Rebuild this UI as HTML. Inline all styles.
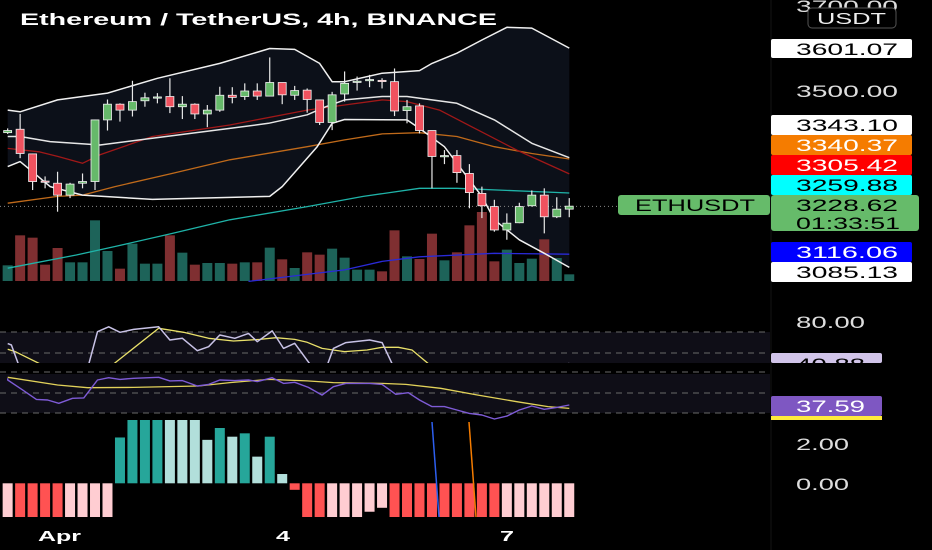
<!DOCTYPE html>
<html><head><meta charset="utf-8">
<style>
html,body{margin:0;padding:0;background:#000;width:932px;height:550px;overflow:hidden}
svg{display:block;font-family:"Liberation Sans",sans-serif}
</style></head>
<body>
<svg id="chart" width="932" height="550" viewBox="0 0 932 550" xmlns="http://www.w3.org/2000/svg">
<rect x="0" y="0" width="932" height="550" fill="#000"/>
<defs>
<clipPath id="cMain"><rect x="0" y="0" width="770" height="284"/></clipPath>
<clipPath id="cRsi1"><rect x="0" y="318" width="770" height="45"/></clipPath>
<clipPath id="cRsi2"><rect x="0" y="365" width="770" height="56"/></clipPath>
<clipPath id="cHist"><rect x="0" y="420" width="770" height="97"/></clipPath>
</defs>
<g id="main" clip-path="url(#cMain)"></g>
<g id="rsi1"></g>
<g id="rsi2"></g>
<g id="hist"></g>
<g id="axis"></g>
<text x="20" y="25" fill="#fff" font-size="17" font-weight="bold" textLength="477" lengthAdjust="spacingAndGlyphs">Ethereum / TetherUS, 4h, BINANCE</text>
<text x="38" y="541" fill="#fff" font-size="15" font-weight="bold" textLength="43" lengthAdjust="spacingAndGlyphs">Apr</text>
<text x="276" y="541" fill="#fff" font-size="15" font-weight="bold" textLength="14" lengthAdjust="spacingAndGlyphs">4</text>
<text x="500" y="541" fill="#fff" font-size="15" font-weight="bold" textLength="14" lengthAdjust="spacingAndGlyphs">7</text>
</svg>
<script>
const opens=[3402,3410,3352,3288,3283,3255,3283,3287,3432,3469,3455,3477,3485,3487,3463,3469,3446,3455,3490,3487,3500,3488,3520,3490,3502,3479,3426,3493,3521,3525,3525,3522,3454,3465,3407,3346,3348,3306,3259,3228,3173,3190,3230,3255,3204,3222];
const highs=[3412,3446,3353,3299,3310,3284,3306,3433,3480,3471,3524,3496,3495,3530,3488,3471,3467,3510,3509,3518,3518,3579,3520,3512,3506,3480,3498,3546,3534,3538,3530,3553,3479,3471,3407,3361,3361,3328,3275,3244,3212,3237,3266,3271,3250,3248];
const lows=[3399,3342,3267,3271,3216,3248,3271,3267,3407,3428,3440,3463,3471,3448,3434,3434,3415,3451,3471,3479,3479,3488,3469,3479,3449,3420,3408,3475,3501,3509,3506,3441,3424,3400,3271,3328,3284,3224,3201,3169,3150,3189,3228,3165,3201,3203];
const closes=[3407,3353,3287,3286,3255,3281,3287,3432,3469,3455,3475,3484,3486,3463,3469,3446,3455,3490,3485,3500,3488,3520,3491,3501,3480,3426,3491,3518,3523,3527,3523,3453,3463,3407,3346,3348,3308,3261,3230,3173,3189,3228,3255,3204,3222,3229];
const volumes=[47,137,130,49,99,56,56,182,90,37,112,52,52,137,85,49,54,54,52,56,56,100,65,39,86,79,97,70,34,34,29,152,74,66,142,62,86,167,207,59,94,54,67,125,69,20];
const bbUpperIdx=[0,1,4,8,12,17,21,23,25,26,27,30,33,34,36,38,40,42,45];
const bbUpper=[3455,3451,3479,3495,3530,3565,3600,3598,3565,3522,3522,3542,3548,3565,3589,3620,3650,3648,3601];
const bbLowerIdx=[0,1,2,3.4,6,11.6,21,22,24.8,26,27,32,33,35,38,39,41,43,45];
const bbLower=[3322,3334,3310,3275,3255,3245,3252,3275,3369,3424,3433,3432,3412,3369,3252,3197,3150,3118,3085];
const bbMidIdx=[0,1,3.4,7.4,11.6,17.8,20.9,24,25.5,27,30,32,36,39,42,45];
const bbMid=[3393,3393,3381,3373,3389,3412,3424,3444,3463,3479,3487,3487,3471,3432,3377,3343];
const maRedIdx=[0,2.5,4,6,7.4,11.6,17.8,24,27,30,32,34.6,37.7,40.8,45];
const maRed=[3365,3357,3346,3330,3350,3393,3420,3455,3467,3479,3475,3455,3408,3361,3305];
const maOrangeIdx=[0,4,6,8.6,13.2,17.8,24,27,30,33,36,39,42,45];
const maOrange=[3236,3252,3255,3275,3306,3338,3369,3385,3399,3402,3393,3369,3353,3340];
const maTealIdx=[0,5.5,8.6,13.2,17.8,24,28.5,33,36,45];
const maTeal=[3083,3114,3134,3165,3197,3228,3252,3271,3271,3260];
const maBlueIdx=[19.3,27,30,33,39,45];
const maBlue=[3052,3079,3099,3110,3118,3116];
const rsiIdx=[0,0.3,1,6.4,7.2,8.1,9,10.1,12.1,13,14,15.2,16.1,17,18.2,19.3,20,21.2,22.1,23,24.5,25.5,26.1,27.1,29,30,31,33,36,40,45];
const rsiVals=[59,57.6,35,35,70.3,75,69.7,72.5,75,62.4,64,52.2,56,67.1,64,68.7,60.8,71,54.4,59.2,35,35,54.4,59.9,62.4,59.9,35,38,25,30,40];
const rsiMaIdx=[0,0.6,3.4,8,12.1,14.1,16.1,18.1,20.2,21.5,23,24,25.2,27,28.8,30,31.3,32.4,34.2,40,45];
const rsiMaVals=[53.5,51.3,35,35,73.5,69.7,64,61.4,63,64.6,63,60.2,54.4,51.3,52.9,55.4,55.4,52.9,35,30,30];
const stochIdx=[0,0,1.2,2.3,3.2,4.1,5.2,6.1,7.2,8.1,9,10.1,12.1,13,14,15.2,16.1,17,18.2,19.3,20,21.2,22.1,23,24.1,25.2,26.1,27.1,29,30,31.1,32.1,33,34,35,36,37,38,39,40,41,42,43,44,45];
const stochVals=[64.3,62.7,53,43.8,43.2,40,44.8,45.2,62.7,64.9,63.3,64.3,65.3,61.8,62.1,56.8,58.4,62.7,62.1,62.7,61.1,64.9,59.4,60.4,55.5,48,56.1,59.4,59.4,58.4,48.7,50.3,43.2,36.7,36.7,33.4,30.1,28.5,24.6,27.5,33.4,37.3,34.1,36,38.3];
const stochMaIdx=[0,4,6.4,10.1,15.3,17.8,20.9,24,26.1,30,31.9,34.7,37.7,40.8,43.3,45];
const stochMaVals=[65.3,57.8,55.2,55.5,56.8,60.1,63.3,61.8,60.1,59.4,58.4,54.6,48,41.5,36.7,35];
const histVals=[-2.2,-2.2,-2.2,-2.2,-2.2,-2.2,-2.2,-2.2,-2.2,2.32,3.4,3.4,3.4,3.4,3.4,3.4,2.2,2.8,2.36,2.53,1.35,2.36,0.47,-0.33,-2.2,-2.2,-2.2,-2.2,-2.2,-1.44,-1.24,-2.2,-2.2,-2.2,-2.2,-2.2,-2.2,-2.2,-2.2,-2.2,-2.2,-2.2,-2.2,-2.2,-2.2,-2.2];
const histShade=["l","d","d","d","d","l","l","l","l","d","d","d","d","l","l","l","l","d","l","d","l","d","l","d","d","d","l","l","l","l","l","d","d","d","d","d","d","d","d","d","l","l","l","l","l","l"];
const axisLabels=["3700.00","3500.00","80.00","2.00","0.00"];
const axisLabelVals=[3700,3500];

const NS="http://www.w3.org/2000/svg";
const xS=i=>7.65+12.48*i;
const yP=p=>91-(p-3500)*0.425;
const yR1=v=>332-(v-70)*1.05;
const yR2=v=>393-(v-50)*1.025;
const yH=v=>483.3-v*19.75;
function mk(tag,attrs,parent){const e=document.createElementNS(NS,tag);for(const k in attrs)e.setAttribute(k,attrs[k]);parent.appendChild(e);return e;}
function pts(idx,vals,yf){return idx.map((t,k)=>xS(t).toFixed(1)+","+yf(vals[k]).toFixed(1)).join(" ");}

const main=document.getElementById('main');
const bandPts=pts(bbUpperIdx,bbUpper,yP)+" "+bbLowerIdx.slice().reverse().map((t,k)=>xS(t).toFixed(1)+","+yP(bbLower[bbLower.length-1-k]).toFixed(1)).join(" ");
let bf=mk('polygon',{points:bandPts,fill:'#0c1019'},main);


volumes.forEach((v,i)=>{const up=closes[i]>=opens[i];
 let r=mk('rect',{x:xS(i)-5,y:281-v/3,width:10,height:v/3,fill:up?'#1d6359':'#7f2f31'},main);
 
 });
let pl=mk('line',{x1:0,x2:618,y1:yP(3228.62),y2:yP(3228.62),stroke:'#888','stroke-dasharray':'1 3','stroke-width':1},main);


function line(idx,vals,yf,color,name,parent,w){let e=mk('polyline',{points:pts(idx,vals,yf),fill:'none',stroke:color,'stroke-width':w||1.3,'stroke-linejoin':'round'},parent);
 
 }
line(maTealIdx,maTeal,yP,'#1fb3a8','ma-teal',main);
line(maBlueIdx,maBlue,yP,'#2a2ad8','ma-blue',main);
line(maOrangeIdx,maOrange,yP,'#c06a1a','ma-orange',main);
line(maRedIdx,maRed,yP,'#a01818','ma-red',main);
line(bbMidIdx,bbMid,yP,'#e6e6e6','bollinger-middle',main,1.5);
line(bbUpperIdx,bbUpper,yP,'#f0f0f0','bollinger-upper',main,1.5);
line(bbLowerIdx,bbLower,yP,'#f0f0f0','bollinger-lower',main,1.5);
opens.forEach((o,i)=>{const c=closes[i],up=c>=o,x=xS(i);
 let w=mk('line',{x1:x,x2:x,y1:yP(highs[i]),y2:yP(lows[i]),stroke:'#e8e8e8','stroke-width':1.2},main);
 
 
 const t=yP(Math.max(o,c)),b=yP(Math.min(o,c));
 let r=mk('rect',{x:x-4,y:t,width:8,height:Math.max(1.2,b-t),fill:up?'#66b96a':'#f0525f',stroke:'#f2f2f2','stroke-width':0.8},main);
 
 });

const r1=document.getElementById('rsi1');
mk('rect',{x:0,y:332,width:770,height:31,fill:'#0f0e17'},r1);
[332,353].forEach(y=>mk('line',{x1:0,x2:770,y1:y,y2:y,stroke:'#6a6a6a','stroke-dasharray':'6 5'},r1));
const g1=mk('g',{'clip-path':'url(#cRsi1)'},r1);
line(rsiMaIdx,rsiMaVals,yR1,'#e9e06a','rsi-ma-line',g1);
line(rsiIdx,rsiVals,yR1,'#c8c2e6','rsi-line',g1,1.5);
const r2=document.getElementById('rsi2');
mk('rect',{x:0,y:374,width:770,height:39,fill:'#0f0e17'},r2);
[372,393,413].forEach(y=>mk('line',{x1:0,x2:770,y1:y,y2:y,stroke:'#6a6a6a','stroke-dasharray':'6 5'},r2));
const g2=mk('g',{'clip-path':'url(#cRsi2)'},r2);
line(stochMaIdx,stochMaVals,yR2,'#e2d25a','stoch-ma-line',g2);
line(stochIdx,stochVals,yR2,'#7e5bd6','stoch-line',g2,1.4);

const h=document.getElementById('hist');
const hg=mk('g',{'clip-path':'url(#cHist)'},h);
histVals.forEach((v,i)=>{const pos=v>=0,d=histShade[i]==='d';
 const col=pos?(d?'#26a69a':'#b2dfdb'):(d?'#ff5252':'#ffcdd2');
 const y0=yH(0),y1=yH(v);
 let r=mk('rect',{x:xS(i)-5,y:Math.min(y0,y1),width:10,height:Math.abs(y1-y0),fill:col},hg);
 
 });
let bl=mk('line',{x1:432,y1:422,x2:439,y2:517,stroke:'#2d5ff0','stroke-width':1.5},h);


let ol=mk('line',{x1:469,y1:422,x2:476,y2:517,stroke:'#f57c00','stroke-width':1.5},h);



const ax=document.getElementById('axis');
mk('line',{x1:771,x2:771,y1:0,y2:550,stroke:'#141414'},ax);
function txt(s,x,y,col,parent,name,size,anchor,len){let t=mk('text',{x:x,y:y,fill:col,'font-size':size||17},parent);if(anchor)t.setAttribute('text-anchor',anchor);
 const L=len||({7:102,8:104,5:69,4:53}[s.length]);if(L){t.setAttribute('textLength',L);t.setAttribute('lengthAdjust','spacingAndGlyphs');}
 t.textContent=s;
 
 return t;}
axisLabelVals.forEach((p,k)=>txt(axisLabels[k],796,yP(p)+6,'#ddd',ax,'price-tick-label'));
txt(axisLabels[2],796,328,'#ddd',ax,'rsi-tick-label');
txt(axisLabels[3],796,450,'#ddd',ax,'hist-tick-label');
txt(axisLabels[4],796,490,'#ddd',ax,'hist-tick-label');
let ub=mk('rect',{x:808,y:8,width:88,height:20,rx:4,fill:'#000',stroke:'#555'},ax);


txt('USDT',817,24,'#eee',ax,'currency-label',16,null,69);
function box(label,y,h,bg,fg,name,w){let r=mk('rect',{x:771,y:y,width:w||141,height:h,rx:2,fill:bg},ax);
 
 
 txt(label,796,y+16,fg,ax,name+'-text');}
box('3601.07',39,19,'#fff','#000','bb-upper-tag');
box('3343.10',115,20,'#fff','#000','bb-middle-tag');
box('3340.37',135,20,'#f57c00','#fff','ma-orange-tag');
box('3305.42',155,20,'#ff0000','#fff','ma-red-tag');
box('3259.88',175,20,'#00ffff','#000','ma-teal-tag');
let gb=mk('rect',{x:771,y:195,width:148,height:36,rx:3,fill:'#66bb6a'},ax);


txt('3228.62',796,211,'#000',ax,'last-price-text');
txt('01:33:51',796,229,'#000',ax,'countdown-text');
let eb=mk('rect',{x:618,y:195,width:152,height:20,rx:3,fill:'#66bb6a'},ax);


txt('ETHUSDT',635,211,'#000',ax,'symbol-tag-text',17,null,120);
box('3116.06',242,20,'#0000ff','#fff','ma-blue-tag');
box('3085.13',262,20,'#fff','#000','bb-lower-tag');
let rb=mk('rect',{x:771,y:353,width:111,height:10,rx:2,fill:'#d1c4e9'},ax);


const cp=mk('clipPath',{id:'cTag'},ax);mk('rect',{x:771,y:353,width:111,height:10},cp);
let rt=txt('40.88',796,370,'#000',ax,'rsi-value-text');rt.setAttribute('clip-path','url(#cTag)');
let pb=mk('rect',{x:771,y:396,width:111,height:20,rx:2,fill:'#7e57c2'},ax);


let yb=mk('rect',{x:771,y:416,width:111,height:4,fill:'#ffeb3b'},ax);


txt('37.59',796,412,'#fff',ax,'stoch-value-text');
</script>
</body></html>
